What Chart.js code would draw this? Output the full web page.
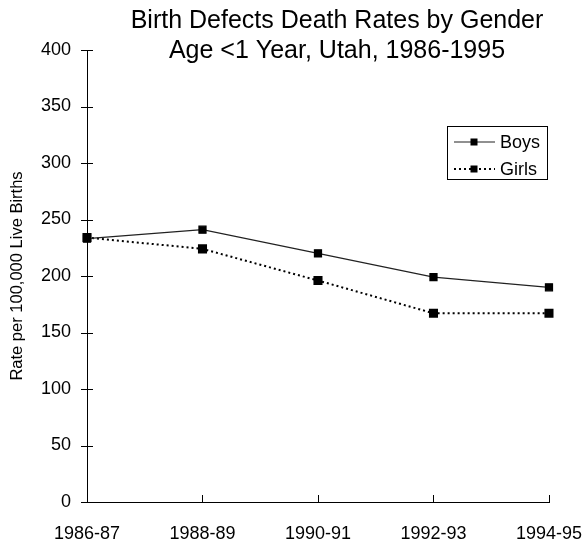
<!DOCTYPE html>
<html>
<head>
<meta charset="utf-8">
<script src="https://cdn.jsdelivr.net/npm/chart.js@4"></script>
<style>
  body { margin: 0; background: #fff; }
  canvas { display: block; }
</style>
</head>
<body>
<canvas id="grafico" width="582" height="544"></canvas>
<script>
// datos
const periodos = ["1986-87", "1988-89", "1990-91", "1992-93", "1994-95"];
const boys = [233, 241, 220, 199, 190];
const girls = [234, 224, 196, 167, 167];
const yTicks = [0, 50, 100, 150, 200, 250, 300, 350, 400];
const titulo = ["Birth Defects Death Rates by Gender", "Age <1 Year, Utah, 1986-1995"];

const fuente = '"Liberation Sans", Arial, sans-serif';

// titulo, marcas de ejes y leyenda dibujados a mano
const extras = {
  id: 'extras',
  afterDraw(chart) {
    const ctx = chart.ctx;
    const x = chart.scales.x, y = chart.scales.y;
    ctx.save();

    // titulo
    ctx.fillStyle = '#000';
    ctx.font = '25px ' + fuente;
    ctx.textAlign = 'center';
    ctx.textBaseline = 'middle';
    ctx.fillText(titulo[0], 337, 21);
    ctx.fillText(titulo[1], 337, 51);

    // marcas
    ctx.strokeStyle = '#000';
    ctx.lineWidth = 1;
    ctx.beginPath();
    yTicks.forEach(v => {
      const py = Math.round(y.getPixelForValue(v)) + 0.5;
      ctx.moveTo(x.left - 6, py);
      ctx.lineTo(x.left + 6, py);
    });
    periodos.forEach((p, i) => {
      const px = Math.round(x.getPixelForValue(i)) + 0.5;
      ctx.moveTo(px, y.bottom - 7);
      ctx.lineTo(px, y.bottom + 1);
    });
    ctx.stroke();

    // leyenda
    const bx = 447.5, by = 126.5, bw = 100, bh = 53;
    ctx.strokeRect(bx, by, bw, bh);
    chart.data.datasets.forEach((ds, i) => {
      const ly = 142 + i * 27;
      ctx.save();
      ctx.strokeStyle = ds.borderColor;
      ctx.lineWidth = ds.borderWidth;
      ctx.setLineDash(ds.borderDash || []);
      ctx.beginPath();
      ctx.moveTo(454, ly);
      ctx.lineTo(495, ly);
      ctx.stroke();
      ctx.restore();
      ctx.fillStyle = '#000';
      ctx.fillRect(470.5, ly - 3.5, 7, 7);
      ctx.font = '18px ' + fuente;
      ctx.textAlign = 'left';
      ctx.textBaseline = 'middle';
      ctx.fillText(ds.label, 500, ly + 1);
    });
    ctx.restore();
  }
};

new Chart(document.getElementById('grafico'), {
  type: 'line',
  data: {
    labels: periodos,
    datasets: [
      {
        label: 'Boys', data: boys,
        borderColor: '#222', borderWidth: 1.2,
        pointStyle: 'rect', pointRadius: 5, pointBackgroundColor: '#000', pointBorderColor: '#000',
        tension: 0
      },
      {
        label: 'Girls', data: girls,
        borderColor: '#000', borderWidth: 2, borderDash: [2, 3],
        pointStyle: 'rect', pointRadius: 5, pointBackgroundColor: '#000', pointBorderColor: '#000',
        tension: 0
      }
    ]
  },
  options: {
    responsive: false,
    animation: false,
    layout: { padding: { top: 50, right: 0, left: 0, bottom: 0 } },
    plugins: { legend: { display: false }, title: { display: false }, tooltip: { enabled: false } },
    scales: {
      x: {
        offset: false,
        grid: { display: false, drawTicks: true, tickLength: 21 },
        border: { display: true, color: '#000', width: 1 },
        ticks: { color: '#000', font: { family: fuente, size: 18 }, padding: 0, maxRotation: 0, autoSkip: false },
        afterFit(s) { s.height = 42; }
      },
      y: {
        min: 0, max: 400,
        grid: { display: false, drawTicks: false },
        border: { display: true, color: '#000', width: 1 },
        afterBuildTicks(s) { s.ticks = yTicks.map(v => ({ value: v })); },
        ticks: { color: '#000', font: { family: fuente, size: 18 }, padding: 16 },
        title: { display: true, text: 'Rate per 100,000 Live Births', color: '#000',
                 font: { family: fuente, size: 16.5 }, padding: { top: 8, bottom: 0 } },
        afterFit(s) { s.width = 87; }
      }
    }
  },
  plugins: [extras]
});
</script>
</body>
</html>
